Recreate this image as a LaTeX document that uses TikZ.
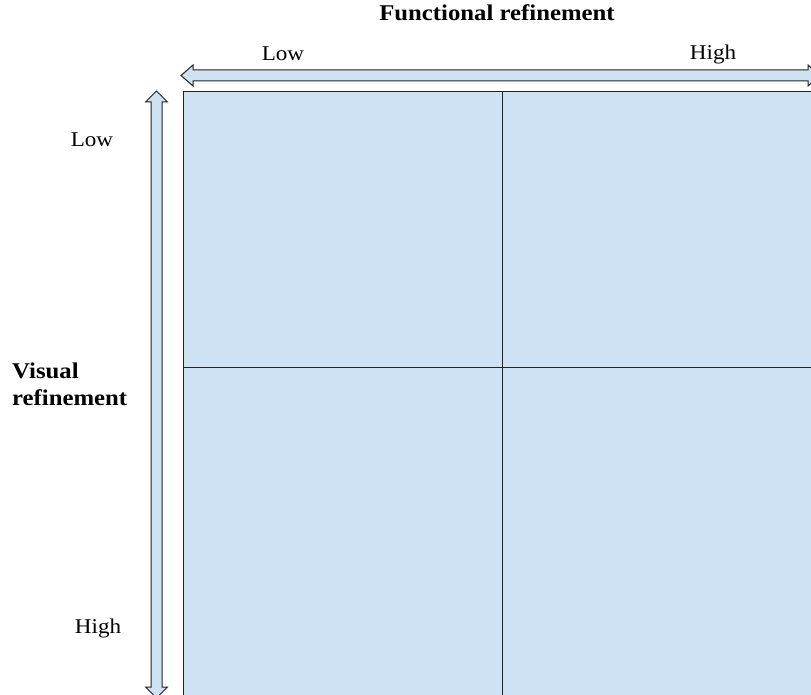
\documentclass[tikz,border=0pt]{standalone}
\usepackage{fontspec}
\setmainfont{Liberation Serif}[FakeStretch=1.1]
\definecolor{cellblue}{HTML}{CFE2F3}
\definecolor{edge}{HTML}{222222}
\begin{document}
\begin{tikzpicture}[x=1pt,y=-1pt,
  cell/.style={draw=edge, line width=1pt, fill=cellblue},
  axisarrow/.style={draw=edge, line width=1pt, fill=cellblue, line join=miter},
  ticklabel/.style={font=\fontsize{21}{23}\selectfont, inner sep=0pt},
  axistitle/.style={font=\fontsize{22.5}{27}\selectfont\bfseries, inner sep=0pt}]
\useasboundingbox (0,0) rectangle (811,695);
\clip (0,0) rectangle (811,695);

% 2x2 grid of quadrants
\path[cell] (183,92) rectangle (502,367);
\path[cell] (502,92) rectangle (830,367);
\path[cell] (183,367) rectangle (502,720);
\path[cell] (502,367) rectangle (830,720);

% horizontal axis arrow (functional refinement)
\path[axisarrow] (181,75.5) -- (193,65) -- (193,70) -- (808,70) -- (808,65)
  -- (820,75.5) -- (808,86) -- (808,81) -- (193,81) -- (193,86) -- cycle;

% vertical axis arrow (visual refinement)
\path[axisarrow] (156.5,91) -- (167.5,102) -- (162,102) -- (162,687) -- (167.5,687)
  -- (156.5,698) -- (145.5,687) -- (151,687) -- (151,102) -- (145.5,102) -- cycle;

% labels
\node[axistitle] (ftitle) at (497,13) {Functional refinement};
\node[ticklabel] (flow) at (283,54) {Low};
\node[ticklabel] (fhigh) at (713,54) {High};
\node[ticklabel] (vlow) at (92,140) {Low};
\node[ticklabel] (vhigh) at (98,628) {High};
\node[axistitle, anchor=west, align=left] (vtitle) at (12,384) {Visual\\refinement};
\end{tikzpicture}
\end{document}
